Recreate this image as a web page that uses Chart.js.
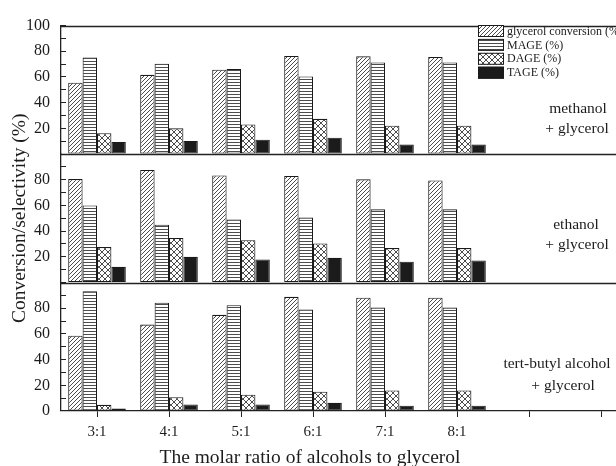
<!DOCTYPE html>
<html>
<head>
<meta charset="utf-8">
<script src="https://cdn.jsdelivr.net/npm/chart.js@4"></script>
<style>
  html, body { margin: 0; padding: 0; background: #fff; overflow: hidden; width: 616px; height: 466px; }
  #wrap { position: absolute; left: 0; top: 0; width: 637px; height: 466px; }
</style>
</head>
<body>
<div id="wrap"><canvas id="c" width="637" height="466"></canvas></div>
<script>
// Molar ratio categories (two trailing empty slots keep the axis running on)
const categories = ['3:1', '4:1', '5:1', '6:1', '7:1', '8:1', '', ''];
const seriesNames = ['glycerol conversion (%)', 'MAGE (%)', 'DAGE (%)', 'TAGE (%)'];

// methanol + glycerol
const methConv = [55.6, 61.7, 65.7, 76.4, 76.1, 75.6];
const methMAGE = [75.1, 70.3, 66.2, 60.4, 71.3, 71.3];
const methDAGE = [16.2, 20.0, 23.1, 27.4, 22.1, 22.1];
const methTAGE = [9.4, 10.2, 11.2, 12.7, 7.4, 7.4];

// ethanol + glycerol
const ethConv = [80.5, 87.6, 83.3, 83.0, 80.3, 79.5];
const ethMAGE = [60.0, 45.0, 49.1, 50.6, 57.0, 57.0];
const ethDAGE = [27.6, 34.7, 32.9, 30.4, 26.8, 26.8];
const ethTAGE = [12.2, 20.0, 18.0, 19.2, 16.2, 17.2];

// tert-butyl alcohol + glycerol
const tbaConv = [58.6, 67.3, 74.9, 88.9, 88.2, 88.2];
const tbaMAGE = [93.2, 84.3, 82.3, 79.0, 80.5, 80.5];
const tbaDAGE = [4.8, 10.7, 12.7, 15.0, 16.0, 16.0];
const tbaTAGE = [2.0, 5.1, 5.1, 6.4, 4.1, 4.1];

// Labelled y ticks in each panel
const topTickLabels = [20, 40, 60, 80, 100];
const midTickLabels = [20, 40, 60, 80];
const botTickLabels = [0, 20, 40, 60, 80];

const panelNames = [
  ['methanol', '+ glycerol'],
  ['ethanol', '+ glycerol'],
  ['tert-butyl alcohol', '+ glycerol']
];

const SERIF = "'Liberation Serif', 'Times New Roman', serif";
const INK = '#1c1c1c';

// Monochrome fill patterns for the four series
function makeFill(kind) {
  if (kind === 'solid') return '#1b1b1b';
  const s = kind === 'horiz' ? 3 : (kind === 'cross' ? 6 : 4);
  const c = document.createElement('canvas');
  c.width = s; c.height = s;
  const g = c.getContext('2d');
  g.fillStyle = '#fff';
  g.fillRect(0, 0, s, s);
  g.strokeStyle = '#383838';
  g.lineWidth = 0.9;
  g.beginPath();
  if (kind === 'diag') {
    g.moveTo(-1, s + 1); g.lineTo(s + 1, -1);
    g.moveTo(-1, 1); g.lineTo(1, -1);
    g.moveTo(s - 1, s + 1); g.lineTo(s + 1, s - 1);
  } else if (kind === 'horiz') {
    g.moveTo(0, 1.5); g.lineTo(s, 1.5);
  } else if (kind === 'cross') {
    g.moveTo(-1, -1); g.lineTo(s + 1, s + 1);
    g.moveTo(s + 1, -1); g.lineTo(-1, s + 1);
  }
  g.stroke();
  return g.createPattern(c, 'repeat');
}
const seriesFill = [makeFill('diag'), makeFill('horiz'), makeFill('cross'), makeFill('solid')];
const seriesStack = ['conv', 'mage', 'dage', 'tage'];

const panels = [
  { axis: 'y1', values: [methConv, methMAGE, methDAGE, methTAGE] },
  { axis: 'y2', values: [ethConv, ethMAGE, ethDAGE, ethTAGE] },
  { axis: 'y3', values: [tbaConv, tbaMAGE, tbaDAGE, tbaTAGE] }
];

const datasets = [];
panels.forEach(p => {
  p.values.forEach((vals, k) => {
    datasets.push({
      label: seriesNames[k],
      data: vals,
      yAxisID: p.axis,
      stack: seriesStack[k],
      backgroundColor: seriesFill[k],
      borderColor: '#1a1a1a',
      borderWidth: 1.1,
      borderSkipped: false,
      categoryPercentage: 0.8,
      barPercentage: 1.0
    });
  });
});

function panelAxis(labels, weight, withTitle) {
  return {
    type: 'linear',
    position: 'left',
    stack: 'panels',
    stackWeight: 1,
    weight: weight,
    min: 0,
    max: 100,
    stacked: false,
    afterFit: s => { s.width = 61; },
    ticks: {
      stepSize: 10,
      autoSkip: false,
      padding: 16,
      color: INK,
      font: { family: SERIF, size: 16 },
      callback: v => (labels.includes(v) ? String(v) : '')
    },
    grid: { drawOnChartArea: false, drawTicks: true, tickLength: -5, color: '#222', lineWidth: 1 },
    border: { display: true, color: '#222', width: 1.3 },
    title: withTitle ? {
      display: true,
      text: 'Conversion/selectivity (%)',
      color: INK,
      font: { family: SERIF, size: 19.5 },
      padding: { top: 8, bottom: 0 }
    } : { display: false }
  };
}

// Panel frames, legend and annotation text
const decor = {
  id: 'decor',
  afterDatasetsDraw(chart) {
    const { ctx, chartArea, scales } = chart;
    ctx.save();
    ctx.strokeStyle = '#222';
    ctx.lineWidth = 1.3;
    ['y1', 'y2', 'y3'].forEach(id => {
      const y = Math.round(scales[id].top) + 0.5;
      ctx.beginPath();
      ctx.moveTo(chartArea.left, y);
      ctx.lineTo(chartArea.right, y);
      ctx.stroke();
    });
    ctx.restore();
  },
  afterDraw(chart) {
    const { ctx, scales } = chart;
    ctx.save();
    // legend
    const lx = 478, lw = 26, lh = 12, ly0 = 25, step = 13.9;
    ctx.font = '12px ' + SERIF;
    ctx.textBaseline = 'middle';
    ctx.textAlign = 'left';
    seriesNames.forEach((name, k) => {
      const y = ly0 + k * step;
      ctx.fillStyle = seriesFill[k];
      ctx.fillRect(lx, y, lw, lh);
      ctx.strokeStyle = '#1a1a1a';
      ctx.lineWidth = 1;
      ctx.strokeRect(lx + 0.5, y + 0.5, lw - 1, lh - 1);
      ctx.fillStyle = INK;
      ctx.fillText(name, lx + lw + 3, y + lh / 2 + 0.5);
    });
    // panel annotations
    ctx.font = '15.5px ' + SERIF;
    ctx.textAlign = 'center';
    const spots = [
      { id: 'y1', x: [578, 577], dy: [83, 103] },
      { id: 'y2', x: [576, 577], dy: [71, 91] },
      { id: 'y3', x: [557, 563], dy: [81, 103] }
    ];
    spots.forEach((s, i) => {
      const top = scales[s.id].top;
      ctx.fillText(panelNames[i][0], s.x[0], top + s.dy[0]);
      ctx.fillText(panelNames[i][1], s.x[1], top + s.dy[1]);
    });
    // x axis title
    ctx.font = '19.5px ' + SERIF;
    ctx.fillText('The molar ratio of alcohols to glycerol', 310, 458);
    ctx.restore();
  }
};

new Chart(document.getElementById('c'), {
  type: 'bar',
  data: { labels: categories, datasets: datasets },
  options: {
    responsive: false,
    animation: false,
    devicePixelRatio: 1,
    layout: { padding: { top: 17, left: 0, right: 0, bottom: 0 } },
    plugins: { legend: { display: false }, tooltip: { enabled: false } },
    scales: {
      x: {
        type: 'category',
        offset: true,
        afterFit: s => { s.height = 55; },
        grid: { offset: false, drawOnChartArea: false, drawTicks: true, tickLength: 6, color: '#222', lineWidth: 1 },
        border: { display: true, color: '#222', width: 1.3 },
        ticks: { autoSkip: false, maxRotation: 0, padding: 6, color: INK, font: { family: SERIF, size: 15 } }
      },
      y1: panelAxis(topTickLabels, 3, false),
      y2: panelAxis(midTickLabels, 2, true),
      y3: panelAxis(botTickLabels, 1, false)
    }
  },
  plugins: [decor]
});
</script>
</body>
</html>
